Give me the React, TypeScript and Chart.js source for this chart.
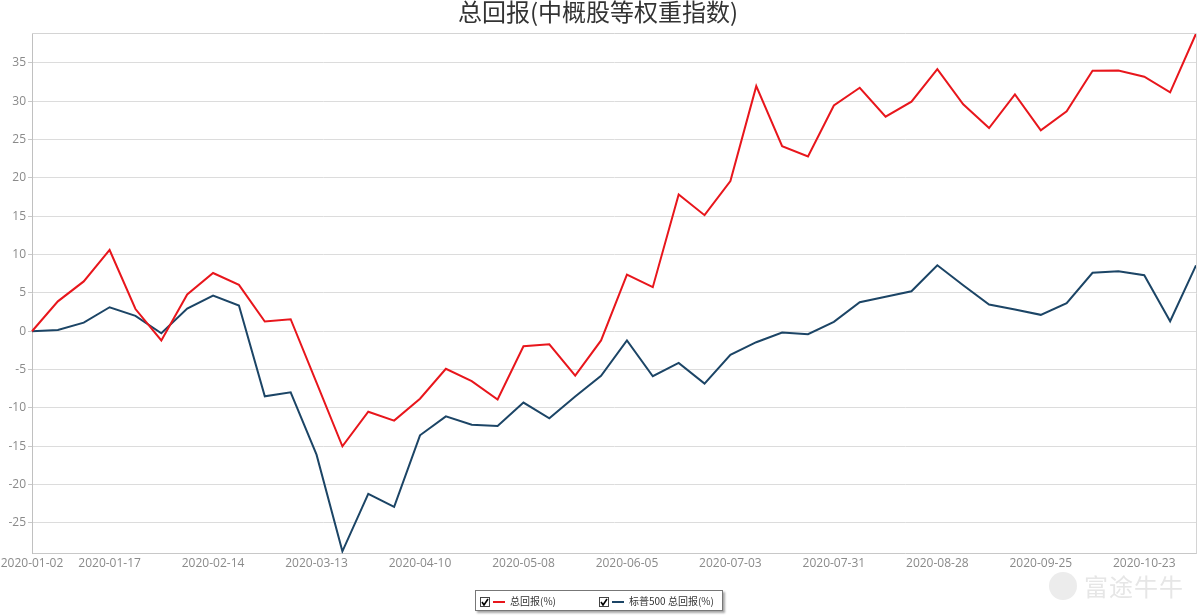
import React, { useEffect, useRef } from "react";
import { Chart, registerables } from "chart.js";

Chart.register(...registerables);

const CATEGORIES: string[] = [
  "2020-01-02", "2020-01-03", "2020-01-10", "2020-01-17", "2020-01-24", "2020-01-31",
  "2020-02-07", "2020-02-14", "2020-02-21", "2020-02-28", "2020-03-06", "2020-03-13",
  "2020-03-20", "2020-03-27", "2020-04-03", "2020-04-10", "2020-04-17", "2020-04-24",
  "2020-05-01", "2020-05-08", "2020-05-15", "2020-05-22", "2020-05-29", "2020-06-05",
  "2020-06-12", "2020-06-19", "2020-06-26", "2020-07-03", "2020-07-10", "2020-07-17",
  "2020-07-24", "2020-07-31", "2020-08-07", "2020-08-14", "2020-08-21", "2020-08-28",
  "2020-09-04", "2020-09-11", "2020-09-18", "2020-09-25", "2020-10-02", "2020-10-09",
  "2020-10-16", "2020-10-23", "2020-10-30", "2020-11-06",
];

const TICK_LABELS: string[] = [
  "2020-01-02", "2020-01-17", "2020-02-14", "2020-03-13", "2020-04-10", "2020-05-08",
  "2020-06-05", "2020-07-03", "2020-07-31", "2020-08-28", "2020-09-25", "2020-10-23",
];

const TOTAL_RETURN: number[] = [
  0, 3.9, 6.5, 10.6, 2.9, -1.2, 4.8, 7.6, 6.05, 1.27, 1.57, -6.7,
  -15.0, -10.5, -11.65, -8.8, -4.9, -6.5, -8.9, -1.96, -1.7, -5.78, -1.2, 7.4,
  5.75, 17.84, 15.14, 19.58, 31.97, 24.14, 22.8, 29.45, 31.76, 27.98, 29.95, 34.2,
  29.6, 26.5, 30.9, 26.2, 28.7, 33.98, 34.0, 33.2, 31.15, 38.8,
];

const SP500_RETURN: number[] = [
  0, 0.17, 1.13, 3.13, 2.0, -0.26, 2.96, 4.66, 3.35, -8.48, -7.96, -16.1,
  -28.7, -21.2, -22.9, -13.57, -11.1, -12.2, -12.35, -9.3, -11.35, -8.5, -5.8, -1.2,
  -5.87, -4.13, -6.83, -3.08, -1.43, -0.17, -0.39, 1.22, 3.79, 4.49, 5.22, 8.6,
  6.0, 3.48, 2.83, 2.14, 3.66, 7.62, 7.83, 7.31, 1.31, 8.6,
];

const TITLE = "总回报(中概股等权重指数)";
const SERIES_NAMES = ["总回报(%)", "标普500 总回报(%)"];
const COLORS = ["#e8161c", "#1c4566"];

const Y_MIN = -29.0;
const Y_MAX = 38.9;
const Y_STEP = 5;

const frame = {
  id: "frame",
  afterDraw(chart: any) {
    const { ctx, chartArea } = chart;
    ctx.save();
    ctx.strokeStyle = "#d4d4d4";
    ctx.lineWidth = 1;
    ctx.beginPath();
    ctx.moveTo(chartArea.left, Math.round(chartArea.top) + 0.5);
    ctx.lineTo(Math.round(chartArea.right) + 0.5, Math.round(chartArea.top) + 0.5);
    ctx.lineTo(Math.round(chartArea.right) + 0.5, chartArea.bottom);
    ctx.stroke();
    ctx.restore();
  },
};

function Check() {
  return (
    <span
      style={{
        display: "inline-block",
        width: 8,
        height: 8,
        border: "1px solid #444",
        position: "relative",
        background: "#fff",
        verticalAlign: "middle",
      }}
    >
      <svg width="8" height="8" style={{ position: "absolute", left: 0, top: 0 }}>
        <polyline points="1,4 3,7 7,1" fill="none" stroke="#000" strokeWidth="1.6" />
      </svg>
    </span>
  );
}

export default function App() {
  const ref = useRef<HTMLCanvasElement | null>(null);

  useEffect(() => {
    if (!ref.current) return;
    const chart = new Chart(ref.current, {
      type: "line",
      data: {
        labels: CATEGORIES,
        datasets: [
          {
            label: SERIES_NAMES[0],
            data: TOTAL_RETURN,
            borderColor: COLORS[0],
            backgroundColor: COLORS[0],
            borderWidth: 2,
            pointRadius: 0,
            tension: 0,
          },
          {
            label: SERIES_NAMES[1],
            data: SP500_RETURN,
            borderColor: COLORS[1],
            backgroundColor: COLORS[1],
            borderWidth: 2,
            pointRadius: 0,
            tension: 0,
          },
        ],
      },
      options: {
        animation: false,
        responsive: false,
        maintainAspectRatio: false,
        layout: { padding: { left: 0, right: 4, top: 0, bottom: 42 } },
        plugins: {
          legend: { display: false },
          tooltip: { enabled: false },
          title: {
            display: true,
            text: TITLE,
            color: "#333333",
            font: { family: "'Noto Sans CJK SC', 'Noto Sans'", size: 24, weight: "normal", lineHeight: 1.0 },
            padding: { top: 0, bottom: 9 },
          },
        },
        scales: {
          x: {
            type: "category",
            offset: false,
            grid: { display: false, drawTicks: false },
            border: { display: true, color: "#c8c8c8", width: 1 },
            afterFit: (scale: any) => {
              scale.paddingLeft = 0;
              scale.paddingRight = 0;
            },
            ticks: {
              autoSkip: false,
              maxRotation: 0,
              minRotation: 0,
              padding: 3,
              color: "#8a8a8a",
              font: { family: "'Open Sans'", size: 12 },
              callback: (_v: any, i: number) =>
                TICK_LABELS.includes(CATEGORIES[i]) ? CATEGORIES[i] : "",
            },
          },
          y: {
            type: "linear",
            min: Y_MIN,
            max: Y_MAX,
            afterBuildTicks: (scale: any) => {
              scale.ticks = scale.ticks.filter(
                (t: any) => Math.abs(t.value / Y_STEP - Math.round(t.value / Y_STEP)) < 1e-6
              );
            },
            afterFit: (scale: any) => {
              scale.width = 32;
            },
            grid: {
              color: "#dcdcdc",
              lineWidth: 1,
              drawTicks: true,
              tickLength: 4,
              tickColor: "#c8c8c8",
            },
            border: { display: true, color: "#c0c0c0", width: 1 },
            ticks: {
              stepSize: Y_STEP,
              padding: 2,
              color: "#8a8a8a",
              font: { family: "'Open Sans'", size: 12 },
            },
          },
        },
      },
      plugins: [frame],
    } as any);
    return () => chart.destroy();
  }, []);

  return (
    <div
      style={{
        position: "fixed",
        left: 0,
        top: 0,
        width: 1200,
        height: 616,
        background: "#fff",
        fontFamily: "'Noto Sans CJK SC', 'Noto Sans', sans-serif",
      }}
    >
      <canvas ref={ref} width={1200} height={616} style={{ position: "absolute", left: 0, top: 0 }} />
      <div
        style={{
          position: "absolute",
          left: 475,
          top: 590,
          width: 246,
          height: 19,
          border: "1px solid #777",
          boxShadow: "2px 2px 2px rgba(0,0,0,0.35)",
          background: "#fff",
          fontSize: 10,
          color: "#333",
          lineHeight: "19px",
        }}
      >
        <span style={{ position: "absolute", left: 4, top: 0 }}>
          <Check />
          <span
            style={{
              display: "inline-block",
              width: 12,
              height: 2,
              background: COLORS[0],
              verticalAlign: "middle",
              margin: "0 5px 0 3px",
            }}
          />
          {SERIES_NAMES[0]}
        </span>
        <span style={{ position: "absolute", left: 123, top: 0 }}>
          <Check />
          <span
            style={{
              display: "inline-block",
              width: 12,
              height: 2,
              background: COLORS[1],
              verticalAlign: "middle",
              margin: "0 5px 0 3px",
            }}
          />
          {SERIES_NAMES[1]}
        </span>
      </div>
      <div
        style={{
          position: "absolute",
          left: 1049,
          top: 572,
          width: 28,
          height: 28,
          borderRadius: "50%",
          background: "#ececec",
        }}
      />
      <div
        style={{
          position: "absolute",
          left: 1084,
          top: 569,
          fontSize: 24,
          color: "#e6e6e6",
          letterSpacing: 1,
          lineHeight: "34px",
        }}
      >
        富途牛牛
      </div>
    </div>
  );
}
